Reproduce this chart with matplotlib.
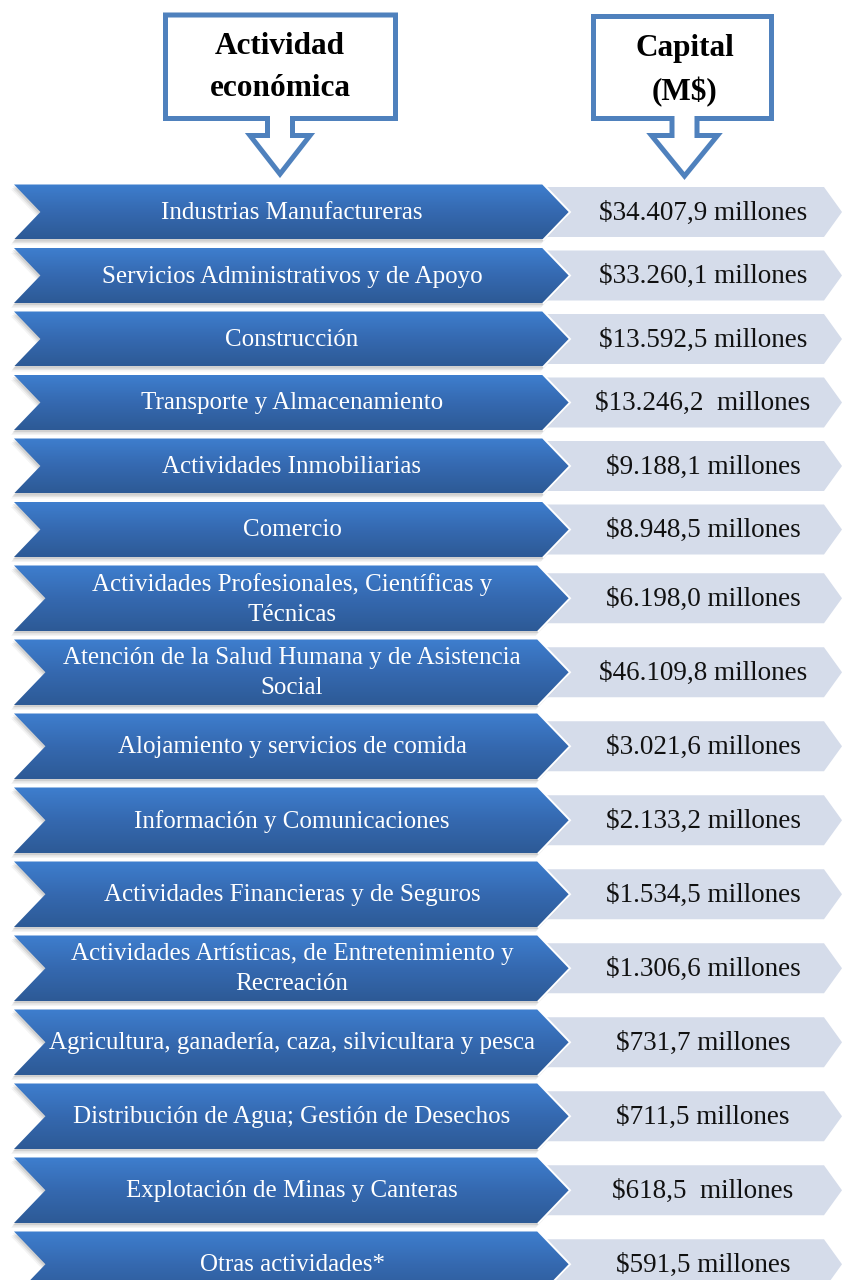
import numpy as np
import matplotlib.pyplot as plt
from matplotlib.patches import Polygon
from matplotlib.colors import LinearSegmentedColormap

# data
actividades = [
    'Industrias Manufactureras',
    'Servicios Administrativos y de Apoyo',
    'Construcción',
    'Transporte y Almacenamiento',
    'Actividades Inmobiliarias',
    'Comercio',
    'Actividades Profesionales, Científicas y\nTécnicas',
    'Atención de la Salud Humana y de Asistencia\nSocial',
    'Alojamiento y servicios de comida',
    'Información y Comunicaciones',
    'Actividades Financieras y de Seguros',
    'Actividades Artísticas, de Entretenimiento y\nRecreación',
    'Agricultura, ganadería, caza, silvicultara y pesca',
    'Distribución de Agua; Gestión de Desechos',
    'Explotación de Minas y Canteras',
    'Otras actividades*',
]
capital = [
    '$34.407,9 millones',
    '$33.260,1 millones',
    '$13.592,5 millones',
    '$13.246,2  millones',
    '$9.188,1 millones',
    '$8.948,5 millones',
    '$6.198,0 millones',
    '$46.109,8 millones',
    '$3.021,6 millones',
    '$2.133,2 millones',
    '$1.534,5 millones',
    '$1.306,6 millones',
    '$731,7 millones',
    '$711,5 millones',
    '$618,5  millones',
    '$591,5 millones',
]
headers = ['Actividad\neconómica', 'Capital\n(M$)']

# style
font = 'Liberation Serif'
edge_blue = '#4F81BD'
light = '#D5DCEA'
grad = LinearSegmentedColormap.from_list('g', ['#3E7ECE', '#3569B0', '#2D5A96'])

W, H = 842, 1280
fig = plt.figure(figsize=(W / 100, H / 100), dpi=100, facecolor='white')
ax = fig.add_axes([0, 0, 1, 1])
ax.set_xlim(0, W)
ax.set_ylim(H, 0)
ax.axis('off')


def chevron(x0, x1, top, h, d):
    mid = top + h / 2
    return [(x0, top), (x1 - d, top), (x1, mid), (x1 - d, top + h),
            (x0, top + h), (x0 + d, mid)]


# row layout: first six rows are shorter
n = len(actividades)
heights = [55] * 6 + [65.5] * (n - 6)
tops = []
y = 184.5
for h in heights:
    tops.append(y)
    y += h + 8.5

gradient = np.linspace(0, 1, 100).reshape(-1, 1)

for i in range(n):
    top, h = tops[i], heights[i]
    mid = top + h / 2
    d = 0.48 * h

    # light value chevron
    gh = 50
    ax.add_patch(Polygon(chevron(546, 842, mid - gh / 2, gh, 18),
                         closed=True, facecolor=light, edgecolor='none', zorder=1))

    # soft shadow of the blue chevron
    for k, a in [(5, 0.06), (3.5, 0.09), (2, 0.12)]:
        pts = [(px - k * 0.6, py + k) for px, py in chevron(14, 570, top, h, d)]
        ax.add_patch(Polygon(pts, closed=True, facecolor='#444444', alpha=a,
                             edgecolor='none', zorder=2))

    # blue chevron with gradient fill, thin white rim on the tip
    shape = chevron(14, 570, top, h, d)
    im = ax.imshow(gradient, cmap=grad, aspect='auto', origin='upper',
                   extent=(14, 570, top + h, top), zorder=3)
    im.set_clip_path(Polygon(shape, closed=True, transform=ax.transData))
    tip = shape[1:4]
    ax.plot([p[0] for p in tip], [p[1] for p in tip], color='white', lw=1.4,
            solid_joinstyle='miter', zorder=4)

    ax.text(292, mid + 1, actividades[i], ha='center', va='center', color='white',
            fontsize=18, family=font, linespacing=1.45, zorder=5)
    ax.text(703, mid + 1, capital[i], ha='center', va='center', color='#111111',
            fontsize=19.5, family=font, zorder=5)

# header callouts with down arrows
callouts = [
    (165.5, 395.5, 15, 118.5, 280, 12.5, 30, 174, 67.5),
    (593.5, 771.5, 16.5, 118.5, 684.5, 12.5, 33, 176, 70.5),
]
for (bx0, bx1, by0, by1, cx, sw, hw, tip, ty), label in zip(callouts, headers):
    stem_bot = by1 + 17
    pts = [(bx0, by0), (bx1, by0), (bx1, by1), (cx + sw, by1), (cx + sw, stem_bot),
           (cx + hw, stem_bot), (cx, tip), (cx - hw, stem_bot), (cx - sw, stem_bot),
           (cx - sw, by1), (bx0, by1)]
    ax.add_patch(Polygon(pts, closed=True, facecolor='white', edgecolor=edge_blue,
                         lw=3.6, joinstyle='miter', zorder=6))
    ax.text(cx, ty, label, ha='center', va='center', color='black',
            fontsize=22.5, fontweight='bold', family=font, linespacing=1.62, zorder=7)

fig.savefig('out.png', dpi=100, facecolor='white')
